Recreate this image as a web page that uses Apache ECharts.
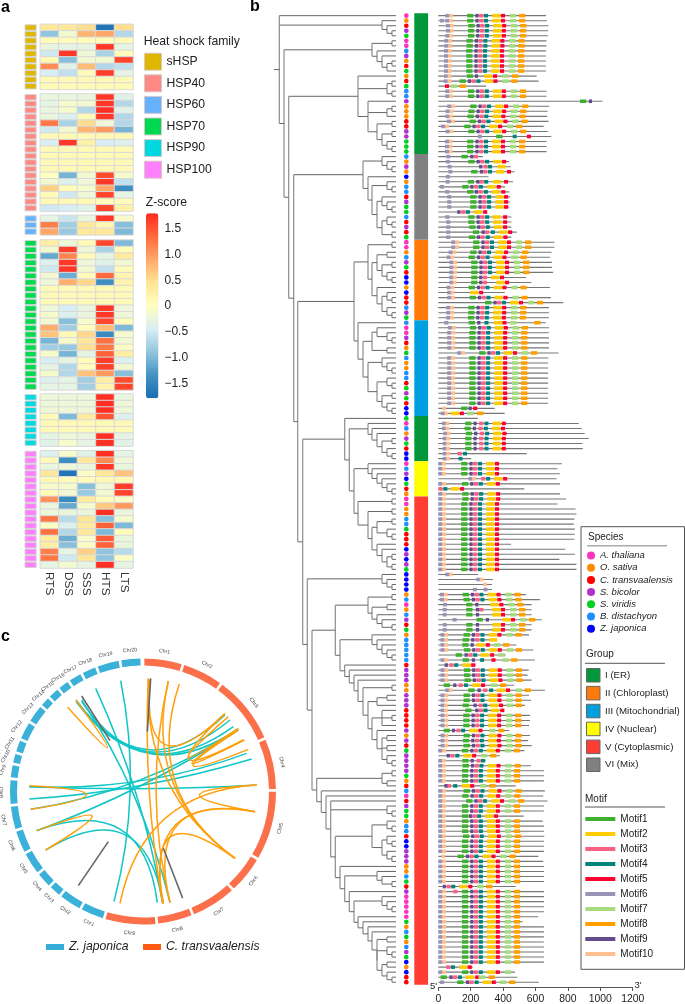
<!DOCTYPE html>
<html><head><meta charset="utf-8">
<script src="https://cdn.jsdelivr.net/npm/echarts@6/dist/echarts.min.js"></script>
<style>html,body{margin:0;padding:0;background:#fff}#c{width:685px;height:1004px}</style>
</head><body><div id="c"></div>
<script>
// ---------- panel a ----------
const heatColumns = ['RTS','DSS','SSS','HTS','LTS'];
const familyNames = ['sHSP','HSP40','HSP60','HSP70','HSP90','HSP100'];
const familyColors = ['#dfb700','#ff8a85','#66b2ff','#00d94f','#00d9e0','#ff80ff'];
const heatSHSP = [[.4,.4,.5,-1.7,.5],[-.9,-.15,.8,.9,-.7],[.05,.05,.05,.05,.1],[-.25,-.3,-.3,1.7,-.3],[-.5,1.7,-.2,-.75,.05],[.1,-.95,-.15,-.15,1.6],[1.1,-.35,.75,-.7,-.6],[-.45,-.6,.05,1.65,-.3],[.1,.1,.1,.1,.1],[.1,.1,.1,.1,.1]];
const heatHSP40 = [[-.25,-.25,-.25,1.7,-.35],[-.3,-.1,-.15,1.7,-.7],[-.25,-.1,-.7,1.75,-.35],[-.25,-.4,.1,1.7,-.7],[1.25,-.75,.5,-.2,-.7],[-.5,-.15,.8,1,-1.05],[.1,.1,.1,.1,.1],[-.45,1.7,.25,-.45,-.4],[.1,.1,.1,.1,.1],[.1,.1,.1,.1,.1],[.1,.1,.1,.1,.1],[.1,.1,.1,.1,.1],[0,-1.05,-.15,1.55,-.1],[-.15,-.4,-.2,1.7,-.6],[.6,.05,-.1,.9,-1.4],[.05,-.5,-.2,1.6,-.3],[.1,.1,.1,.05,.05],[-.5,-.45,-.35,1.6,.25]];
const heatHSP60 = [[-.3,-.55,-.25,1.7,-.1],[1.2,-.8,.4,.15,-.95],[.9,-.85,.4,.4,-1]];
const heatHSP70 = [[.3,-.2,.1,1.6,-1],[-.15,1.65,-.2,-.75,.05],[-1.15,1.15,.1,-.3,.35],[-.4,1.7,-.2,-.35,-.15],[-.5,1.7,-.15,-.6,.05],[-.15,-1.1,.05,1.35,.2],[-.2,.85,.55,-1.4,.2],[.1,.1,.1,.1,.1],[.1,.1,.1,.1,.1],[.1,.1,.1,.1,.1],[-.2,-.45,-.25,1.7,-.2],[-.1,-.4,-.25,1.7,-.2],[-.15,-.95,-.1,1.6,.05],[.85,-.8,.05,.75,-1],[.7,.1,.55,-1.45,-.1],[-1.05,-.1,.4,1.3,-.15],[-.8,-.85,.5,1.25,-.05],[-.1,-1.05,-.3,1.4,.3],[-.45,-.3,.05,1.65,-.4],[-.3,-.7,.05,1.65,-.15],[-.1,-.7,.7,1,-.95],[-.4,-.3,-.8,.3,1.55],[-.3,-.3,-.8,.2,1.6]];
const heatHSP90 = [[-.2,-.2,-.2,1.75,-.25],[-.2,-.2,-.2,1.75,-.2],[-.2,-.2,-.2,1.75,-.2],[.05,-1,.35,1.5,-.4],[.1,.1,.1,.1,.1],[.1,.1,.1,.1,.1],[-.3,-.2,-.25,1.75,-.3],[-.35,-.1,-.3,1.75,-.35]];
const heatHSP100 = [[-.4,-.1,-.35,1.75,-.3],[.1,-1.4,.4,1.1,-.2],[-.25,-.2,-.25,1.7,-.25],[.4,-1.7,-.05,.4,.7],[.1,.05,.05,.1,.1],[-.1,-.1,-.95,-.2,1.65],[.05,-.15,-.85,-.15,1.6],[1.05,-1.45,.35,.05,-.05],[-.25,-1.15,-.1,.65,1],[-.2,-.25,-.25,1.75,-.25],[1.25,-.65,.45,-.95,-.1],[-.05,-.4,.35,1.4,-1],[1.3,-.7,.4,-1,.05],[.35,-1.1,-.1,1.45,-.25],[.3,-.95,-.05,1.4,-.25],[1.2,-.3,.6,-.9,-.65],[1.25,-.5,.45,-.9,-.05],[-.3,-.15,-.3,1.75,-.3]];
const heatTables = [heatSHSP,heatHSP40,heatHSP60,heatHSP70,heatHSP90,heatHSP100];
const heatTops = [24.3,94,215.3,240,394,450.7];
const zTicks = {'1.5':'1.5','1':'1.0','0.5':'0.5','0':'0','-0.5':'\u22120.5','-1':'\u22121.0','-1.5':'\u22121.5'};

// ---------- panel b ----------
const speciesNames = ['A. thaliana','O. sativa','C. transvaalensis','S. bicolor','S. viridis','B. distachyon','Z. japonica'];
const speciesCodes = ['A','O','C','S','V','B','Z'];
const speciesColors = ['#ff33bb','#ff8c00','#ff0000','#b030d0','#00d020','#1e90ff','#0000ff'];
const groupNames = ['I (ER)','II (Chloroplast)','III (Mitochondrial)','IV (Nuclear)','V (Cytoplasmic)','VI (Mix)'];
const groupColors = ['#00983a','#ff7a0a','#00a0e0','#ffff00','#ff3d33','#808080'];
const groupSpans = [[[1,28],[81,89]],[[46,61]],[[62,80]],[[90,96]],[[97,193]],[[29,45]]];
const motifNames = ['Motif1','Motif2','Motif3','Motif4','Motif5','Motif6','Motif7','Motif8','Motif9','Motif10'];
const motifColors = ['#3fb02f','#ffcc00','#fb6085','#00857a','#ff0033','#9b93b5','#a6dc7f','#ffa000','#654a8c','#ffbf8f'];
const motifWidths = {1:39,2:50,3:26,4:25,5:25,6:25,7:39,8:39,9:20,10:23};
const motifStarts = {1:146,9:197,3:220,4:250,2:301,5:355,7:410,8:466};
const tail = {skip:[7,8]};
// [species, gene length, start of motif 6, shift of conserved block, options]
const geneRows = [
['A',665,43,32],['O',670,43,32,{add:[[6,10]]}],['C',680,47,39],['S',678,47,37],['V',678,43,37],['A',668,37,28],['A',668,37,28],['B',664,35,26],['S',664,35,26],['O',664,35,26],['C',664,35,26],['V',664,35,26],
['O',607,,,{at:[[6,35],[10,57],[1,176],[9,225],[2,283],[5,338],[7,394],[8,455]]}],['C',619,33,-15],['V',295,,,{at:[[5,41],[7,76],[8,131]]}],['B',668,43,37],['B',668,43,37],
['S',1013,,,{at:[[1,875],[9,929]]}],['O',685,55,51],['O',675,45,39],['O',672,43,34],['C',680,53,47],['C',650,18,14],['S',676,45,39],
['S',697,,,{at:[[6,244],[1,357],[4,459],[5,547]]}],['V',668,41,32],['V',668,41,32],['V',668,41,32],
['B',275,,,{at:[[6,49],[1,143],[9,197],[3,219]]}],['O',437,47,39,{skip:[10,7,8]}],['S',447,,,{at:[[6,57],[9,252],[3,279],[4,307],[2,365]]}],
['O',471,,,{at:[[6,62],[1,203],[9,256],[3,277],[4,307],[2,357],[5,424]]}],['Z',310,,,{at:[[6,47]]}],['O',461,,,{at:[[6,45],[1,182],[9,234],[3,254],[4,283],[2,338],[5,406]]}],
['B',412,,,{at:[[6,10],[1,148],[9,197],[3,221],[4,250],[2,303],[5,361]]}],['B',439,,,{at:[[6,43],[1,178],[9,225],[3,248],[4,281],[2,330],[5,389]]}],
['C',443,,,{at:[[6,55],[1,197],[9,248],[3,271],[4,301],[2,353],[5,406]]}],['S',443,,,{at:[[6,55],[1,197],[9,248],[3,271],[4,301],[2,353],[5,406]]}],['V',439,,,{at:[[6,55],[1,197],[9,248],[3,271],[4,301],[2,353],[5,406]]}],
['V',300,,,{at:[[9,117],[3,141],[4,170],[2,219],[5,277]]}],['B',451,,,{at:[[6,43],[1,185],[9,236],[3,258],[4,289],[2,334],[5,400]]}],['C',451,,,{at:[[6,49],[1,185],[9,236],[3,258],[4,289],[2,340],[5,400]]}],
['S',451,,,{at:[[6,49],[1,191],[9,240],[3,262],[4,293],[2,344],[5,400]]}],['C',484,,,{at:[[6,49],[1,213],[9,267],[3,287],[4,324],[2,375],[5,431]]}],['V',451,,,{at:[[6,49],[1,189],[9,238],[3,260],[4,293],[2,344],[5,402]]}],
['A',717,80,69],['A',717,80,69],['O',699,64,51],['B',689,51,41],['S',701,68,57],['V',701,68,57],['C',709,68,57],
['Z',541,,,{at:[[6,68],[10,90],[1,203],[9,252],[3,275],[2,326],[5,381]]}],['Z',574,,,{at:[[6,68],[10,90],[1,203],[9,252],[3,275],[2,359],[5,412]]}],['O',689,51,41],
['Z',410,,,{at:[[6,55],[10,77],[2,197],[5,252]]}],['C',695,55,47],['C',771,null,143],['B',683,49,39],['S',683,49,39],['V',683,49,37],
['B',664,,,{at:[[6,37],[1,187],[9,240],[4,285],[2,344],[5,396],[7,443],[8,592]]}],['A',683,59,49],['A',683,55,45],['S',683,55,45],['C',683,55,45],['O',683,55,45],['V',742,117,106],['B',680,55,45],
['O',678,55,45],['O',678,55,45],['B',678,55,45],['B',678,55,45],['C',678,55,45],['V',678,55,45],['S',678,55,45],['V',678,55,45],['C',678,55,45],
['Z',348,,,{at:[[10,25],[1,141],[9,187],[5,215]]}],['Z',410,,,{at:[[6,16],[10,39],[2,78],[5,133],[7,182],[8,240]]}],
['V',244,,,{at:[]}],['A',867,,,{at:[[6,23],[10,45],[1,166],[9,217],[3,252],[4,285],[2,336],[5,392]]}],['B',885,,,{at:[[6,23],[10,45],[1,162],[9,213],[3,248],[4,281],[2,332],[5,387]]}],
['O',904,,,{at:[[6,31],[10,53],[1,170],[9,221],[3,256],[4,289],[2,340],[5,396]]}],['S',929,,,{at:[[6,27],[10,49],[1,166],[9,217],[3,252],[4,285],[2,336],[5,392]]}],
['V',890,,,{at:[[6,27],[10,49],[1,166],[9,217],[3,252],[4,285],[2,336],[5,392]]}],['C',892,,,{at:[[6,27],[10,49],[1,166],[9,217],[3,252],[4,285],[2,336],[5,392]]}],
['Z',545,,,{at:[[6,27],[10,49],[3,119],[4,152]]}],['Z',203,,,{at:[[6,27],[10,49],[4,125]]}],
['A',763,0,-5,tail],['B',736,0,-5,tail],['S',750,0,-5,tail],['Z',730,,,{at:[[6,187],[10,207],[3,264],[4,295],[2,344],[5,400]]}],['V',752,0,0,tail],['C',531,,,{at:[[3,0],[4,31],[2,78],[5,135]]}],['O',752,0,2,tail],
['A',789,0,2,tail],['A',736,0,-5,tail],['O',847,0,-5,tail],['O',853,0,-5,tail],['B',840,0,-5,tail],['B',836,0,-5,tail],['V',843,0,-5,tail],['C',843,0,-5,tail],['C',840,0,-5,tail],['C',449,0,-5,tail],['Z',783,0,-5,tail],['S',843,0,-5,tail],['Z',748,0,-5,tail],['S',853,0,-5,tail],['V',853,0,-5,tail],
['Z',244,,,{at:[[6,43],[10,66]]}],['Z',336,,,{at:[[6,234],[10,256]]}],['Z',332,,,{at:[[10,277]]}],['Z',332,,,{at:[[6,213],[6,279]]}],
['O',541,10,4],['B',627,10,10],['A',576,,,{at:[[6,29],[1,172],[9,228],[2,322],[5,377],[7,433],[8,486]]}],['O',576,,,{at:[[6,27],[1,172],[9,232],[3,252],[2,334],[5,387],[7,443],[8,498]]}],['B',576,,,{at:[[6,27],[1,172],[9,232],[2,334],[5,387],[7,443],[8,498]]}],
['S',638,,,{at:[[6,88],[1,236],[9,293],[2,396],[5,449],[7,504],[8,560]]}],['C',576,,,{at:[[6,27],[1,172],[9,232],[2,334],[5,387],[7,443],[8,498]]}],['V',576,,,{at:[[6,27],[1,172],[9,232],[2,334],[5,387],[7,443],[8,498]]}],
['O',560,14,10],['B',361,,,{at:[[6,14],[10,36],[1,150],[9,203],[3,228],[4,260],[2,314]]}],['B',482,,,{at:[[6,14],[10,36],[1,148],[9,199],[2,236],[5,293],[7,344],[8,400]]}],['B',586,14,12],
['B',416,,,{at:[[1,107],[9,162],[3,185],[4,215],[2,262],[5,320],[7,371]]}],['B',596,,,{at:[[6,14],[10,36],[1,150],[9,207],[4,258],[5,328],[7,396],[8,449]]}],['C',232,,,{at:[[9,39],[3,68],[4,98],[2,150],[5,203]]}],
['S',558,14,12],['S',551,14,12],['S',576,14,16],['O',469,,,{at:[[1,33],[9,92],[3,125],[4,158],[2,209],[5,264],[7,326],[8,381]]}],['O',658,,,{at:[[6,43],[10,65],[1,185],[9,242],[3,277],[4,314],[2,363],[5,418],[7,478],[8,533]]}],
['S',560,14,10],['S',572,14,10],['S',535,,,{at:[[6,14],[10,36],[1,150],[9,217],[3,248],[4,277],[2,320],[5,375],[7,422],[8,477]]}],['C',402,,,{at:[[6,14],[10,36],[1,166],[9,228],[3,250],[4,279],[2,326],[5,383]]}],
['C',566,14,8],['C',566,14,8],['C',560,14,8],['S',437,,,{at:[[1,33],[9,84],[3,111],[4,141],[2,193],[5,248],[7,314],[8,369]]}],['O',566,14,10],['S',555,14,6],['C',576,14,10],['V',531,0,0],
['S',381,,,{at:[[9,51],[3,74],[4,105],[2,154],[5,209],[7,264],[8,320]]}],['S',293,,,{at:[[6,0],[10,23],[1,148],[9,199],[3,236],[4,264]]}],['S',572,0,4],['S',652,0,0],['V',652,0,0],['O',652,0,0],
['C',478,,,{at:[[9,37],[3,53],[4,92],[2,146],[5,197],[7,258],[8,315]]}],['B',658,0,10],['A',648,0,2],['C',674,0,26],['S',652,0,0],['V',652,0,0],['V',527,,,{at:[[6,0],[10,23],[1,146],[9,189],[3,211],[4,240],[2,289],[5,344]]}],
['O',644,0,0],['B',652,0,0],['B',652,0,0],['C',654,0,6],['Z',652,0,0],['Z',652,0,0],['S',652,0,0],['S',617,null,-27,{add:[[10,20]]}],['S',648,0,0],['O',652,0,0],['O',652,0,0],['B',652,0,0],['V',652,0,0],
['C',478,,,{at:[[9,27],[3,51],[4,80],[2,129],[5,185],[7,240],[8,295]]}],['S',652,0,0,{add:[[3,92]]}],['A',652,0,0],['A',652,0,0],['A',652,0,0],['A',652,0,0],['A',617,0,0],['V',521,0,0],
['O',652,0,0],['B',652,0,0],['V',652,0,0],['O',652,0,0],['B',652,0,0],['S',652,0,0],['V',652,0,0],['Z',652,0,0],
['O',213,,,{at:[[3,49],[4,78],[2,129],[5,182]]}],['Z',473,0,0,{skip:[8]}],['C',488,,,{at:[[1,14],[9,68],[3,90],[4,121],[2,170],[5,228],[7,248],[8,310]]}],['C',621,,,{at:[[6,10],[1,117],[9,170],[3,191],[4,224],[2,275],[5,330],[7,381],[8,437]]}]
];
// tree: [branch position, children...]; a bare number is the row of a leaf
const treeLeafX = 126, treeRootX = 4;
const cladeII = [98,[122,46,47],[102,[107,[117,48,49],[112,[122,50,51],[117,52,[122,53,54]]]],[107,55,[112,[117,56,[122,57,58]],[117,59,[122,60,61]]]]]];
const cladeIII = [88,62,[93,[102,[107,63,[117,64,[122,65,66]]],[117,67,68]],[98,[112,69,[117,70,[122,71,72]]],[107,[117,73,[122,74,75]],[112,[122,76,77],[117,78,[122,79,80]]]]]]];
const cladeGray = [93,[112,29,[117,30,[122,31,32]]],[98,33,[102,[117,34,[122,35,36]],[107,[112,37,[117,38,[122,39,40]]],[112,[117,41,[122,42,43]],[122,44,45]]]]]];
const cladeER1 = [88,13,[117,[122,14,15],[122,16,17]],[98,18,[117,[122,19,20],21],[107,[122,22,23],[112,[122,24,25],[117,26,[122,27,28]]]]]];
const cladeMid = [74.7,81,[79.3,[98,82,[102,83,[107,84,[112,[122,85,86],[117,87,[122,88,89]]]]]],[84,[98,90,[102,91,[107,92,[112,93,[117,94,[122,95,96]]]]]],[88,[122,97,98],[98,[122,99,100],[102,[107,[122,101,102],[117,103,[122,104,105]]],[107,106,[112,107,[117,[122,108,109],[122,110,111]]]]]]]]]];
const cladeV1 = [65.3,[98,[122,116,117],[102,[117,118,119],[107,120,[112,121,[122,122,123]]]]],[70,[102,124,[107,125,[112,126,[117,127,[122,128,129]]]]],[74.7,130,[79.3,131,[84,132,[88,133,[93,[122,134,135],[98,[107,[117,136,137],138],[102,[112,139,[122,140,141],142],[107,143,[112,[117,144,145],[117,146,147],[117,148,[122,149,150]]]]]]]]]]]]];
const cladeV2 = [46.7,[112,[122,151,152],[117,153,154]],[51.3,155,[56,156,[60.7,157,[117,158,[122,159,160]],[65.3,[102,[117,161,[122,162,163]],[112,[117,164,[122,165,166]],[117,167,[122,168,169]]]],[70,170,[74.7,[107,171,[112,172,[122,173,174]]],[79.3,175,[84,[112,176,[117,177,[122,178,179]]],[88,180,[93,181,[98,182,[102,183,[107,[117,184,185],[107,[117,186,[122,187,188]],[112,[117,189,190],[117,191,[122,192,193]]]]]]]]]]]]]]]]]];
const treeRoot = [9.3,1,[112,2,[117,3,[122,4,5]]],[14,[102,[122,6,7],[107,8,[112,9,[117,[122,10,11],12]]]],[18.7,cladeER1,[23.7,cladeGray,[27.7,[84,cladeII,cladeIII],[32.7,cladeMid,[37.3,[112,112,[117,113,[122,114,115]]],[42,cladeV1,cladeV2]]]]]]]];

// ---------- panel c ----------
const cChromSpans = [17.5,18.5,30.5,23,31,17,20.5,16,23];
const zChromSpans = [11,10.5,6,7.5,10.5,10.5,11,11.5,6.5,5,6,8.5,8.5,5,5.5,5.5,6.5,7,10.5,9.5];
const chordCentre = [429,515];
const cyanChords = [[362,182,342,845],[287,205,488,850],[245,240,510,848],[228,240,675,285],[235,250,690,300],[245,245,700,320],[228,245,710,330],[88,500,770,495],[88,537,755,417],[92,568,715,328],[110,632,715,330],[137,690,490,850],[110,632,472,848],[88,500,740,400]];
const orangeChords = [[445,175,488,850],[448,178,670,285],[505,183,705,715],[538,192,705,715],[445,178,705,715],[505,183,510,848],[715,330,745,388],[675,280,730,360],[685,290,715,325],[713,330,733,360],[770,495,765,575],[770,495,360,850],[765,575,510,848],[765,575,488,850],[705,715,490,850],[88,497,92,568],[110,632,137,690],[203,262,228,240]];
const grayStrokes = [[452,175,442,335],[245,228,330,362],[325,665,235,797],[490,685,548,835]];

// ---------- build ----------
const FONT='"Liberation Sans",Arial,sans-serif';
const grids=[],xAxes=[],yAxes=[],series=[];
function addGrid(g,x,y){grids.push(g);const i=grids.length-1;xAxes.push(Object.assign({gridIndex:i},x));yAxes.push(Object.assign({gridIndex:i},y));return i;}
const heatSeriesIdx=[];
heatTables.forEach((tbl,f)=>{
  const rowLabels=tbl.map((_,i)=>String(i)), top=heatTops[f], h=tbl.length*6.52, last=f===heatTables.length-1;
  const gi=addGrid({left:40.3,top,width:92.7,height:h},
    {type:'category',data:heatColumns,show:last,axisLine:{show:false},axisTick:{show:false},axisLabel:{rotate:-90,fontSize:11.7,color:'#333',margin:4,fontFamily:FONT}},
    {type:'category',data:rowLabels,inverse:true,show:false});
  const data=[];tbl.forEach((r,i)=>r.forEach((v,c)=>data.push([c,i,v])));
  series.push({type:'heatmap',name:'heat'+f,xAxisIndex:gi,yAxisIndex:gi,data,silent:true,itemStyle:{borderColor:'#d9d9d9',borderWidth:1}});
  heatSeriesIdx.push(series.length-1);
  const gs=addGrid({left:24.5,top,width:12.2,height:h},{type:'value',min:0,max:1,show:false},{type:'category',data:rowLabels,inverse:true,show:false});
  series.push({type:'bar',name:familyNames[f],xAxisIndex:gs,yAxisIndex:gs,data:tbl.map(()=>1),barWidth:'100%',silent:true,itemStyle:{color:familyColors[f],borderColor:'#d4d4d4',borderWidth:1}});
});
// colour bar axis
addGrid({left:146,top:202.8,width:12.4,height:206.4},{type:'value',min:0,max:1,show:false},
  {type:'value',position:'right',min:-2,max:2,interval:.5,axisLine:{show:false},axisTick:{show:false},splitLine:{show:false},
   axisLabel:{fontSize:12,color:'#222',margin:6,fontFamily:FONT,formatter:v=>zTicks[String(v)]||''}});

const rowTop=13.15,rowH=973.85;
const rowAxis={type:'value',inverse:true,min:.5,max:193.95,show:false};
// tree
const treeGrid=addGrid({left:270,top:rowTop,width:130,height:rowH},{type:'value',min:0,max:130,show:false},rowAxis);
const segs=[];
(function walk(n,px){
  if(typeof n==='number'){segs.push([px,n,treeLeafX,n]);return n;}
  const x=n[0],ys=n.slice(1).map(c=>walk(c,x)),a=ys[0],b=ys[ys.length-1],y=(a+b)/2;
  segs.push([x,a,x,b]);segs.push([px,y,x,y]);return y;
})(treeRoot,treeRootX);
series.push({type:'custom',name:'tree',xAxisIndex:treeGrid,yAxisIndex:treeGrid,data:segs,silent:true,clip:false,
  renderItem(p,api){const a=api.coord([api.value(0),api.value(1)]),b=api.coord([api.value(2),api.value(3)]);const v=a[0]===b[0];
    return {type:'line',shape:{x1:a[0],y1:a[1],x2:b[0],y2:b[1]},style:{stroke:v?'#8c8c8c':'#666',lineWidth:v?1.2:1,fill:null}};}});
// species dots and group bars
const annotGrid=addGrid({left:400,top:rowTop,width:32,height:rowH},{type:'value',min:0,max:32,show:false},rowAxis);
groupNames.forEach((g,i)=>series.push({type:'custom',name:g,xAxisIndex:annotGrid,yAxisIndex:annotGrid,data:groupSpans[i],silent:true,clip:false,
  itemStyle:{color:groupColors[i]},
  renderItem(p,api){const a=api.coord([14.3,api.value(0)-.5]),b=api.coord([28.1,api.value(1)+.5]);
    return {type:'rect',shape:{x:a[0],y:a[1],width:b[0]-a[0],height:b[1]-a[1]},style:{fill:groupColors[i]}};}}));
speciesNames.forEach((s,i)=>{
  const data=[];geneRows.forEach((r,k)=>{if(r[0]===speciesCodes[i])data.push([6.3,k+1]);});
  series.push({type:'scatter',name:s,xAxisIndex:annotGrid,yAxisIndex:annotGrid,data,symbol:'circle',symbolSize:4.7,silent:true,itemStyle:{color:speciesColors[i],opacity:1}});
});
// genes
const geneGrid=addGrid({left:438.3,top:rowTop,width:194.4,height:rowH},
  {type:'value',min:0,max:1200,interval:200,splitLine:{show:false},axisLine:{lineStyle:{color:'#555'}},axisTick:{length:4,lineStyle:{color:'#555'}},
   axisLabel:{fontSize:10.4,color:'#222',margin:7,fontFamily:FONT,showMinLabel:true,showMaxLabel:true,formatter:v=>String(v)}},rowAxis);
series.push({type:'custom',name:'backbone',xAxisIndex:geneGrid,yAxisIndex:geneGrid,silent:true,clip:false,data:geneRows.map((r,i)=>[i+1,r[1]]),
  renderItem(p,api){const a=api.coord([0,api.value(0)]),b=api.coord([api.value(1),api.value(0)]);
    return {type:'line',shape:{x1:a[0],y1:a[1],x2:b[0],y2:b[1]},style:{stroke:'#777',lineWidth:1.1,fill:null}};}});
const motifData={};motifNames.forEach((_,i)=>motifData[i+1]=[]);
geneRows.forEach((r,k)=>{
  const row=k+1,o=r[4]||{};
  if(o.at){o.at.forEach(m=>motifData[m[0]].push([row,m[1],motifWidths[m[0]]]));return;}
  const skip=o.skip||[];
  if(r[2]!=null){[[6,r[2]],[10,r[2]+25]].forEach(m=>{if(!skip.includes(m[0]))motifData[m[0]].push([row,m[1],motifWidths[m[0]]]);});}
  Object.keys(motifStarts).forEach(m=>{m=+m;if(!skip.includes(m))motifData[m].push([row,motifStarts[m]+r[3],motifWidths[m]]);});
  (o.add||[]).forEach(m=>motifData[m[0]].push([row,m[1],motifWidths[m[0]]]));
});
motifNames.forEach((n,i)=>series.push({type:'custom',name:n,xAxisIndex:geneGrid,yAxisIndex:geneGrid,silent:true,clip:false,data:motifData[i+1],
  itemStyle:{color:motifColors[i]},
  renderItem(p,api){const a=api.coord([api.value(1),api.value(0)]),b=api.coord([api.value(1)+api.value(2),api.value(0)]);
    return {type:'rect',shape:{x:a[0],y:a[1]-1.8,width:b[0]-a[0],height:3.6},style:{fill:motifColors[i]}};}}));

// chords
const chordGrid=addGrid({left:0,top:620,width:300,height:350},{type:'value',min:0,max:900,show:false},{type:'value',min:0,max:1050,inverse:true,show:false});
function chordSeries(name,data,color){
  series.push({type:'custom',name,xAxisIndex:chordGrid,yAxisIndex:chordGrid,data,silent:true,clip:false,
    renderItem(p,api){const a=api.coord([api.value(0),api.value(1)]),b=api.coord([api.value(2),api.value(3)]),c=api.coord(chordCentre);
      return {type:'bezierCurve',shape:{x1:a[0],y1:a[1],x2:b[0],y2:b[1],cpx1:c[0],cpy1:c[1]},style:{stroke:color,lineWidth:1.5,fill:null}};}});
}
chordSeries('cyan',cyanChords,'#10c6c6');
chordSeries('orange',orangeChords,'#ff9f0a');
series.push({type:'custom',name:'gray',xAxisIndex:chordGrid,yAxisIndex:chordGrid,data:grayStrokes,silent:true,clip:false,
  renderItem(p,api){const a=api.coord([api.value(0),api.value(1)]),b=api.coord([api.value(2),api.value(3)]);
    return {type:'line',shape:{x1:a[0],y1:a[1],x2:b[0],y2:b[1]},style:{stroke:'#666',lineWidth:1.6,fill:null}};}});
function ring(name,spans,color,start){
  const total=spans.reduce((a,b)=>a+b,0);
  series.push({type:'pie',name,center:[143,791.5],radius:[126,133],startAngle:start,endAngle:start-total,clockwise:true,padAngle:1.2,silent:true,
    avoidLabelOverlap:false,minAngle:0,itemStyle:{color},label:{show:false},labelLine:{show:false},
    data:spans.map((v,i)=>({name:'Chr'+(i+1),value:v}))});
}
ring('Z. japonica\u00a0',zChromSpans,'#3bb0d8',90-197);
ring('C. transvaalensis\u00a0',cChromSpans,'#fb6f4a',90);
// chromosome labels: [label, mid angle clockwise from 12 o'clock], placed on the ring's label radius
const chromLabels=[];
[[cChromSpans,0],[zChromSpans,197]].forEach(([sp,start])=>{let a=start;sp.forEach((v,i)=>{chromLabels.push(['Chr'+(i+1),a+v/2]);a+=v;});});
series.push({type:'custom',name:'chrom labels',xAxisIndex:chordGrid,yAxisIndex:chordGrid,silent:true,clip:false,data:chromLabels.map(d=>[d[1]]),
  renderItem(p,api){const d=chromLabels[p.dataIndex],t=d[1]*Math.PI/180,r=426,
      pt=api.coord([chordCentre[0]+r*Math.sin(t),chordCentre[1]-r*Math.cos(t)]);
    const deg=d[1]<=95?d[1]:(d[1]<270?d[1]-180:(d[1]-360)*0.8);
    return {type:'text',x:pt[0],y:pt[1],rotation:-deg*Math.PI/180,style:{text:d[0],fontSize:5.2,fill:'#444',align:'center',verticalAlign:'middle',fontFamily:FONT}};}});

const T=(text,x,y,size,extra)=>({type:'text',x,y,silent:true,style:Object.assign({text,fontSize:size,fontFamily:FONT,fill:'#222',verticalAlign:'middle'},extra||{})});
const L=(x1,y,x2,c,w)=>({type:'line',silent:true,shape:{x1,y1:y,x2,y2:y},style:{stroke:c,lineWidth:w}});
const graphic=[
 T('a',1,8,16,{fontWeight:'bold',fill:'#000'}),T('b',250,7,16,{fontWeight:'bold',fill:'#000'}),T('c',1,637,16,{fontWeight:'bold',fill:'#000'}),
 T('Heat shock family',143.7,41.7,12.2),T('Z-score',145.7,203,12.2),
 {type:'rect',silent:true,shape:{x:581,y:526.7,width:103.5,height:442.6},style:{fill:null,stroke:'#555',lineWidth:1}},
 T('Species',588,537,10),L(587,545.7,667,'#aaa',1.4),T('Group',586,654,10),L(585,663.3,665,'#555',1),T('Motif',585,799,10),L(585,807,665,'#555',1),
 T("5'",430,986,9.5),T("3'",634.5,985,9.5)
];
const legendText={color:'#222',fontFamily:FONT};
const legends=[
 {left:144,top:52.7,orient:'vertical',selectedMode:false,itemWidth:17,itemHeight:17,itemGap:3.6,padding:0,icon:'rect',itemStyle:{borderColor:'#d8c8c8',borderWidth:1},textStyle:Object.assign({fontSize:12.2},legendText),data:familyNames},
 {left:587,top:550.5,orient:'vertical',selectedMode:false,itemWidth:8,itemHeight:8,itemGap:2.2,padding:0,icon:'circle',textStyle:Object.assign({fontSize:9.5,fontStyle:'italic'},legendText),data:speciesNames},
 {left:586,top:668,orient:'vertical',selectedMode:false,itemWidth:13.5,itemHeight:13.5,itemGap:3.4,padding:0,icon:'rect',itemStyle:{borderColor:'#666',borderWidth:1},textStyle:Object.assign({fontSize:9.7},legendText),data:groupNames},
 {left:585.3,top:814,orient:'vertical',selectedMode:false,itemWidth:30,itemHeight:4,itemGap:5,padding:0,icon:'rect',textStyle:Object.assign({fontSize:10},legendText),data:motifNames},
 {left:46,top:941,orient:'horizontal',selectedMode:false,itemWidth:18,itemHeight:6,itemGap:11,padding:0,icon:'rect',textStyle:Object.assign({fontSize:12.2,fontStyle:'italic'},legendText),
  data:[{name:'Z. japonica\u00a0',itemStyle:{color:'#36aedb'}},{name:'C. transvaalensis\u00a0',itemStyle:{color:'#ff5a14'}}]}
];
const chart=echarts.init(document.getElementById('c'),null,{renderer:'canvas'});
chart.setOption({animation:false,backgroundColor:'#fff',textStyle:{fontFamily:FONT},
 grid:grids,xAxis:xAxes,yAxis:yAxes,series,legend:legends,graphic,
 visualMap:{type:'continuous',min:-1.79,max:1.79,seriesIndex:heatSeriesIdx,calculable:false,left:146,top:213.3,itemWidth:12.4,itemHeight:185,padding:0,
  inRange:{color:['#1a6db3','#4393c3','#92c5de','#d8eef4','#ffffbf','#ffe596','#ffa868','#ff6a3c','#ff2a20']}}});
</script></body></html>
